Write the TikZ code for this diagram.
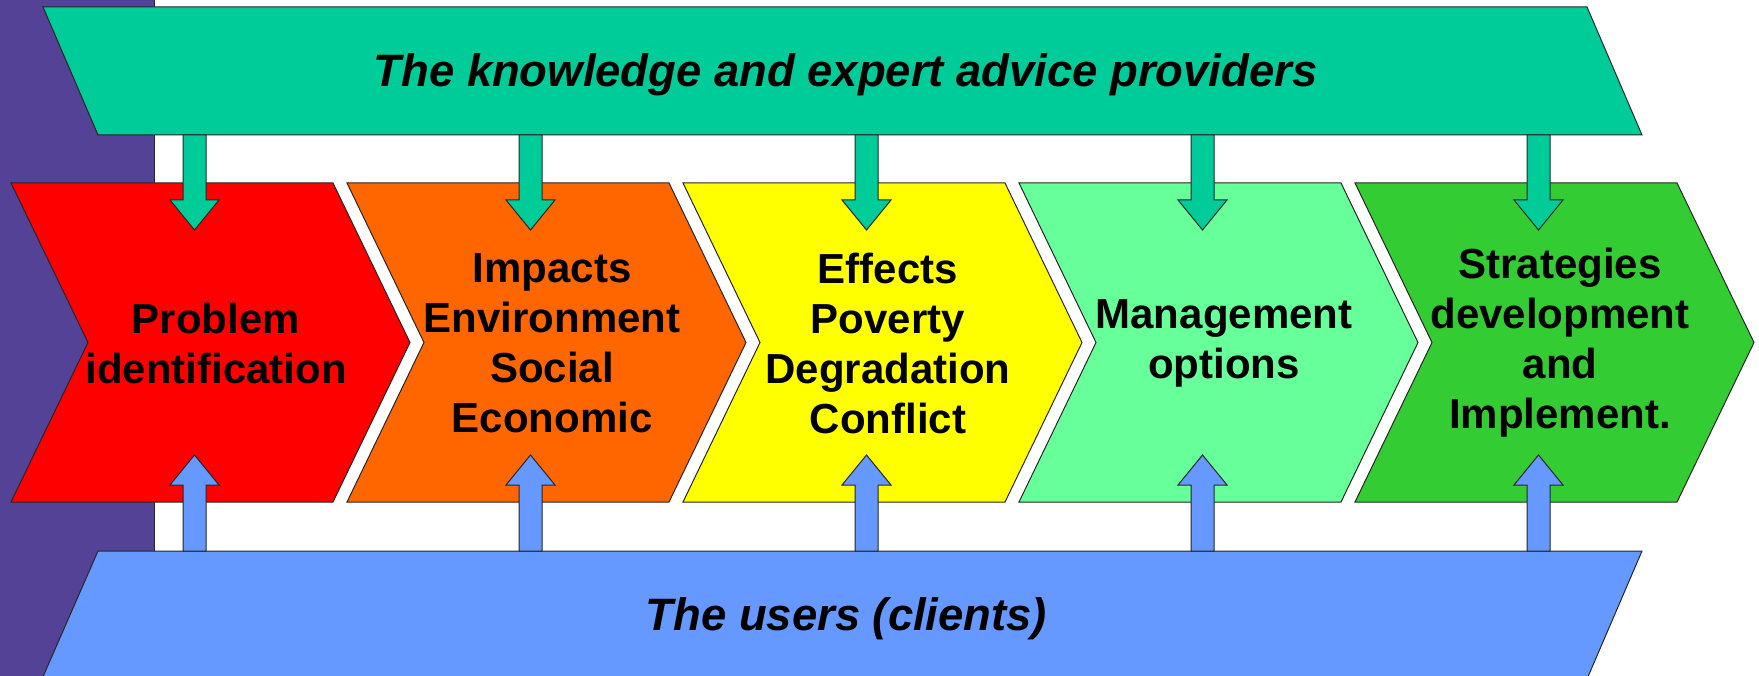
\documentclass[tikz,border=0pt]{standalone}
\usepackage{fontspec}
\setmainfont{Liberation Sans}
\definecolor{bandpurple}{RGB}{84,66,151}
\definecolor{provteal}{RGB}{0,204,153}
\definecolor{userblue}{RGB}{102,153,255}
\definecolor{chevred}{RGB}{255,0,0}
\definecolor{chevorange}{RGB}{255,102,0}
\definecolor{chevyellow}{RGB}{255,255,0}
\definecolor{chevlight}{RGB}{102,255,153}
\definecolor{chevgreen}{RGB}{51,204,51}
\begin{document}
\begin{tikzpicture}[x=1pt,y=-1pt,line width=1pt,
	outl/.style={draw=black!85,line join=miter},
	chev/.style={outl},
	downarr/.style={outl,fill=provteal},
	uparr/.style={outl,fill=userblue}]
\useasboundingbox (0,0) rectangle (1759,676);
\fill[white] (0,0) rectangle (1759,676);

% side band and the two wide bands
\filldraw[outl,fill=bandpurple] (-2,-2) rectangle (154,678);
\filldraw[outl,fill=provteal] (43,7) -- (1587,7) -- (1642,135) -- (98,135) -- cycle;
\filldraw[outl,fill=userblue] (98,551) -- (1642,551) -- (1587,679) -- (42,679) -- cycle;

% the five steps
\filldraw[chev,fill=chevred] (11,183) -- ++(322,0) -- ++(77,159.5) -- ++(-77,159.5) -- ++(-322,0) -- ++(77,-159.5) -- cycle;
\filldraw[chev,fill=chevorange] (347,183) -- ++(322,0) -- ++(77,159.5) -- ++(-77,159.5) -- ++(-322,0) -- ++(77,-159.5) -- cycle;
\filldraw[chev,fill=chevyellow] (683,183) -- ++(322,0) -- ++(77,159.5) -- ++(-77,159.5) -- ++(-322,0) -- ++(77,-159.5) -- cycle;
\filldraw[chev,fill=chevlight] (1019,183) -- ++(322,0) -- ++(77,159.5) -- ++(-77,159.5) -- ++(-322,0) -- ++(77,-159.5) -- cycle;
\filldraw[chev,fill=chevgreen] (1355,183) -- ++(322,0) -- ++(77,159.5) -- ++(-77,159.5) -- ++(-322,0) -- ++(77,-159.5) -- cycle;

% block arrows from the bands
\foreach \cx in {194.5,530.5,866.5,1202.5,1538.5}{
	\filldraw[downarr] (\cx-11.5,135) -- (\cx-11.5,200) -- (\cx-24.5,200) -- (\cx,230) -- (\cx+24.5,200) -- (\cx+11.5,200) -- (\cx+11.5,135) -- cycle;
	\filldraw[uparr] (\cx-11.5,551) -- (\cx-11.5,485) -- (\cx-24.5,485) -- (\cx,455) -- (\cx+24.5,485) -- (\cx+11.5,485) -- (\cx+11.5,551) -- cycle;
}

\begin{scope}[every node/.style={font=\fontsize{45.4}{54}\selectfont\bfseries\itshape,anchor=base,inner sep=0pt}]
	\node (prov) at (845.5,86.7) {The knowledge and expert advice providers};
	\node (users) at (846.5,630) {The users (clients)};
\end{scope}

\begin{scope}[every node/.style={font=\fontsize{42}{50}\selectfont\bfseries,align=center,inner sep=0pt}]
	\node (prob) at (216,343) {Problem\\identification};
	\node (imp) at (552,343) {Impacts\\Environment\\Social\\Economic};
	\node (eff) at (888,343) {Effects\\Poverty\\Degradation\\Conflict};
	\node (man) at (1224,343) {Management\\options};
	\node (strat) at (1560,343) {Strategies\\development\\and\\Implement.};
\end{scope}
\end{tikzpicture}
\end{document}
